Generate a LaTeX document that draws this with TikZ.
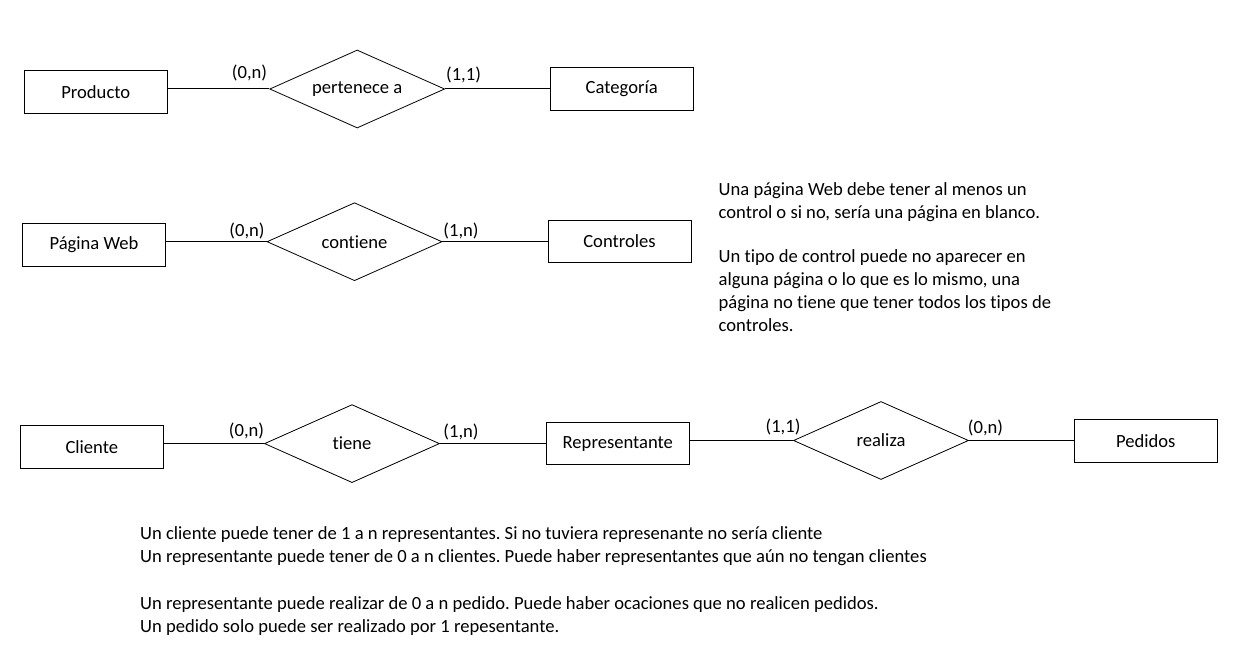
\documentclass[tikz,border=0pt]{standalone}
\usepackage{fontspec}
\setmainfont{Carlito}[Ligatures=NoCommon]
\frenchspacing
\usetikzlibrary{shapes.geometric}
\tikzset{
  entity/.style={draw, line width=1pt, minimum width=143pt, minimum height=42.5pt, inner sep=0pt},
  relation/.style={draw, diamond, line width=0.8pt, shape aspect=2.25, minimum width=175pt, minimum height=78pt, inner sep=0pt},
  conn/.style={line width=1pt},
  card/.style={anchor=base, inner sep=0pt},
  note/.style={anchor=base west, inner sep=0pt},
}
\begin{document}
\begin{tikzpicture}[x=1pt, y=-1pt, font=\fontsize{18.6pt}{22.7pt}\selectfont]
\useasboundingbox (0,0) rectangle (1234,650);
% Row 1
\node[entity] (producto) at (95.8,91.8) {Producto};
\node[relation] (pertenece) at (357.2,89) {pertenece a};
\node[entity] (categoria) at (621.7,88.8) {Categoría};
\draw[conn] (pertenece.west) -- (pertenece.west -| producto.east);
\draw[conn] (pertenece.east) -- (pertenece.east -| categoria.west);
\node[card] (c1a) at (249.5,79) {(0,n)};
\node[card] (c1b) at (463.5,81) {(1,1)};
% Row 2
\node[entity] (pagina) at (94,244.8) {Página Web};
\node[relation] (contiene) at (354.5,241.7) {contiene};
\node[entity] (controles) at (619.5,241.5) {Controles};
\draw[conn] (contiene.west) -- (contiene.west -| pagina.east);
\draw[conn] (contiene.east) -- (contiene.east -| controles.west);
\node[card] (c2a) at (247,236) {(0,n)};
\node[card] (c2b) at (461,236) {(1,n)};
% Row 3
\node[entity] (cliente) at (91.8,446.8) {Cliente};
\node[relation] (tiene) at (352,443.6) {tiene};
\node[entity] (representante) at (617.8,443.6) {Representante};
\node[relation] (realiza) at (881,440.5) {realiza};
\node[entity] (pedidos) at (1145.7,440.8) {Pedidos};
\draw[conn] (tiene.west) -- (tiene.west -| cliente.east);
\draw[conn] (tiene.east) -- (tiene.east -| representante.west);
\draw[conn] (realiza.west) -- (realiza.west -| representante.east);
\draw[conn] (realiza.east) -- (realiza.east -| pedidos.west);
\node[card] (c3a) at (246.5,436.5) {(0,n)};
\node[card] (c3b) at (461,437) {(1,n)};
\node[card] (c3c) at (783,432.5) {(1,1)};
\node[card] (c3d) at (985.5,433) {(0,n)};
% Right notes
\node[note] (n1) at (718.5,195) {Una página Web debe tener al menos un};
\node[note] (n2) at (718.5,218) {control o si no, sería una página en blanco.};
\node[note] (n3) at (718.5,262) {Un tipo de control puede no aparecer en};
\node[note] (n4) at (718.5,285) {alguna página o lo que es lo mismo, una};
\node[note] (n5) at (718.5,308) {página no tiene que tener todos los tipos de};
\node[note] (n6) at (718.5,331) {controles.};
% Bottom notes
\node[note] (b1) at (140,539) {Un cliente puede tener de 1 a n representantes. Si no tuviera represenante no sería cliente};
\node[note] (b2) at (140,562) {Un representante puede tener de 0 a n clientes. Puede haber representantes que aún no tengan clientes};
\node[note] (b3) at (140,609) {Un representante puede realizar de 0 a n pedido. Puede haber ocaciones que no realicen pedidos.};
\node[note] (b4) at (140,632) {Un pedido solo puede ser realizado por 1 repesentante.};
\end{tikzpicture}
\end{document}
